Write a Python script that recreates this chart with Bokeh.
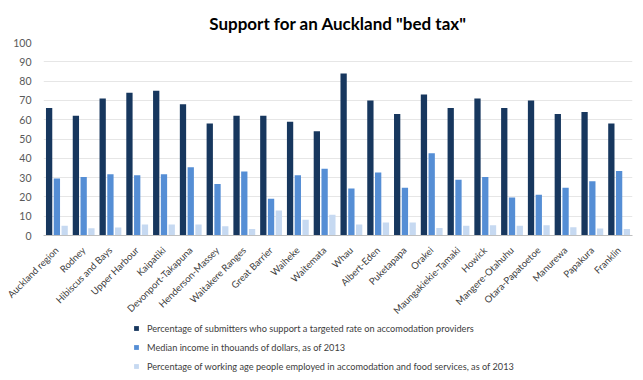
import math
from bokeh.plotting import figure
from bokeh.layouts import column
from bokeh.models import ColumnDataSource, FactorRange, Legend, LegendItem, SingleIntervalTicker
from bokeh.transform import dodge
from bokeh.embed import file_html
from bokeh.resources import INLINE

categories = ["Auckland region", "Rodney", "Hibiscus and Bays", "Upper Harbour", "Kaipatiki",
              "Devonport-Takapuna", "Henderson-Massey", "Waitakere Ranges", "Great Barrier",
              "Waiheke", "Waitemata", "Whau", "Albert-Eden", "Puketapapa", "Orakei",
              "Maungakiekie-Tamaki", "Howick", "Mangere-Otahuhu", "Otara-Papatoetoe",
              "Manurewa", "Papakura", "Franklin"]
support = [66, 62, 71, 74, 75, 68, 58, 62, 62, 59, 54, 84, 70, 63, 73, 66, 71, 66, 70, 63, 64, 58]
income = [29.5, 30.3, 31.7, 31.2, 31.8, 35.4, 26.7, 33.2, 19.0, 31.2, 34.6, 24.3, 32.7, 24.8,
          42.6, 28.9, 30.3, 19.7, 21.1, 24.7, 28.1, 33.4]
employed = [5.1, 3.8, 4.1, 5.7, 5.7, 5.7, 4.8, 3.4, 13.0, 8.2, 10.8, 5.7, 6.7, 6.7, 3.9, 5.1,
            5.3, 5.1, 5.3, 4.3, 3.6, 3.4]
series_labels = [
    "Percentage of submitters who support a targeted rate on accomodation providers",
    "Median income in thouands of dollars, as of 2013",
    "Percentage of working age people employed in accomodation and food services, as of 2013",
]
colors = ["#17375E", "#558ED5", "#C6D9F1"]

src = ColumnDataSource(dict(cat=categories, support=support, income=income, employed=employed))

FONT = "Lato"

p = figure(x_range=FactorRange(*categories), y_range=(0, 100),
           width=643, height=322, output_backend="svg", toolbar_location=None,
           min_border_left=43, min_border_right=11, min_border_top=42, min_border_bottom=85)

p.title.text = 'Support for an Auckland "bed tax"'
p.title.align = "center"
p.title.text_font = FONT
p.title.text_font_size = "17px"
p.title.text_font_style = "bold"
p.title.text_color = "#000000"
p.title.offset = 0
p.title.standoff = 17

bar_w = 0.235
p.vbar(x=dodge("cat", -0.29, range=p.x_range), top="support", width=bar_w, source=src,
       fill_color=colors[0], line_color=None)
p.vbar(x=dodge("cat", 0.0, range=p.x_range), top="income", width=bar_w, source=src,
       fill_color=colors[1], line_color=None)
p.vbar(x=dodge("cat", 0.29, range=p.x_range), top="employed", width=bar_w, source=src,
       fill_color=colors[2], line_color=None)

p.outline_line_color = None
p.xgrid.grid_line_color = None
p.ygrid.grid_line_color = "#E6E6E6"
p.yaxis.ticker = SingleIntervalTicker(interval=10)
p.yaxis.axis_line_color = None
p.yaxis.major_tick_line_color = None
p.yaxis.minor_tick_line_color = None
p.yaxis.major_label_text_font = FONT
p.yaxis.major_label_text_font_size = "10.5px"
p.yaxis.major_label_text_color = "#595959"
p.yaxis.major_label_standoff = 6

p.xaxis.axis_line_color = "#BFBFBF"
p.xaxis.major_tick_line_color = None
p.xaxis.minor_tick_line_color = None
p.xaxis.major_label_orientation = math.pi / 4
p.xaxis.major_label_text_font = FONT
p.xaxis.major_label_text_font_size = "9.5px"
p.xaxis.major_label_text_color = "#404040"
p.xaxis.major_label_standoff = 7

# legend figure below the chart (frames are aligned with the chart above)
lg = figure(width=643, height=58, x_range=(0, 1), y_range=(0, 1), output_backend="svg",
            toolbar_location=None, x_axis_location=None, y_axis_location=None,
            min_border=0)
lg.grid.visible = False
lg.outline_line_color = None
proxy = ColumnDataSource(dict(x=[0], top=[0]))
lr = [lg.vbar(x="x", top="top", width=0.0, source=proxy, fill_color=c, line_color=None)
      for c in colors]

legend = Legend(items=[LegendItem(label=series_labels[i], renderers=[lr[i]]) for i in range(3)],
                location=(90, 8), orientation="vertical")
legend.border_line_color = None
legend.background_fill_alpha = 0
legend.padding = 0
legend.margin = 0
legend.glyph_width = 6
legend.glyph_height = 6
legend.label_height = 12
legend.spacing = 7
legend.label_standoff = 8
legend.label_text_font = FONT
legend.label_text_font_size = "9.2px"
legend.label_text_color = "#404040"
lg.add_layout(legend, "center")

layout = column(p, lg, spacing=0)
open("out.html", "w").write(file_html(layout, INLINE))
